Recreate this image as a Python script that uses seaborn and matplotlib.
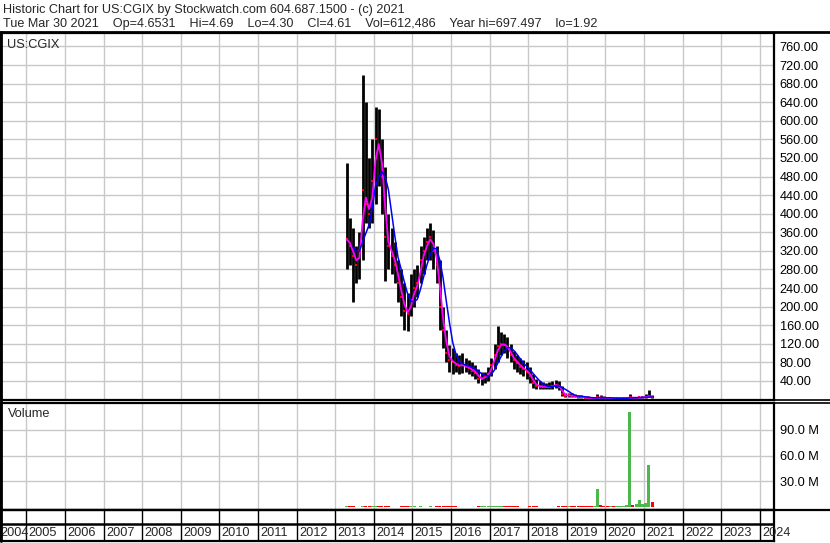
import numpy as np
import pandas as pd
import matplotlib
matplotlib.use("Agg")
import matplotlib.pyplot as plt
from matplotlib.lines import Line2D
import seaborn as sns

# Estilo base
sns.set_theme(style="white")
plt.rcParams['font.family'] = ['Liberation Sans', 'DejaVu Sans']

# Datos mensuales (abr 2013 - mar 2021)
first_month = '2013-04'
high = [509, 390, 370, 330, 360, 698, 640, 520, 560,
        630, 626, 560, 500, 400, 370, 340, 300, 280, 250, 230, 270,
        280, 290, 330, 350, 370, 381, 365, 330, 300, 200, 150, 118,
        110, 100, 95, 100, 90, 85, 80, 75, 65, 60, 60, 70,
        90, 120, 159, 145, 140, 135, 120, 105, 95, 90, 85, 80,
        70, 55, 45, 40, 38, 36, 38, 40, 42, 40, 30, 15,
        14, 13, 12, 10, 9, 8, 7, 6, 6, 12, 9, 7,
        6, 5, 4, 4, 4, 4.5, 5, 12, 6, 5.5, 6, 7,
        12, 20, 9]
low = [280, 290, 210, 250, 260, 300, 380, 370, 380,
       420, 460, 400, 255, 280, 270, 250, 210, 180, 150, 147, 180,
       200, 220, 250, 270, 300, 300, 280, 250, 150, 110, 80, 60,
       55, 60, 55, 58, 60, 55, 50, 45, 35, 31, 35, 40,
       50, 65, 80, 95, 100, 90, 80, 65, 60, 55, 50, 45,
       35, 25, 22, 22, 22, 22, 22, 22, 24, 20, 8, 5,
       6, 6, 5, 4, 3, 3, 2, 2, 2, 2.5, 3, 2.5,
       2.5, 2, 1.92, 2, 2, 2.2, 2.3, 3, 3, 3, 3, 3.5,
       4, 5, 4.3]
close = [345, 330, 310, 290, 320, 450, 420, 400, 470,
         560, 540, 480, 350, 330, 310, 290, 250, 220, 190, 185, 215,
         240, 250, 300, 320, 340, 350, 320, 290, 200, 150, 100, 85,
         80, 75, 72, 75, 70, 68, 62, 58, 45, 45, 50, 55,
         75, 95, 115, 120, 118, 110, 95, 85, 78, 70, 65, 60,
         50, 35, 30, 28, 28, 27, 28, 30, 32, 28, 12, 8,
         9, 8, 7, 6, 5, 4, 3.5, 3, 3, 5, 4, 3.5,
         3, 3, 2.5, 2.8, 3, 3, 3.5, 4.5, 4, 4, 4.5, 5,
         6, 7, 4.61]
volume_m = [1.8, 1.3, 1.3, 1.1, 1.1, 2.0, 1.5, 1.3, 1.3,
            1.5, 1.3, 1.3, 1.4, 1.2, 1.1, 1.1, 1.1, 1.2, 1.3, 1.3, 1.2,
            1.2, 1.1, 1.2, 1.1, 1.1, 1.2, 1.1, 1.2, 1.4, 1.5, 1.4, 1.3,
            1.3, 1.2, 1.1, 1.1, 1.1, 1.1, 1.1, 1.1, 1.2, 1.3, 1.2, 1.2,
            1.3, 1.5, 1.7, 1.4, 1.3, 1.2, 1.2, 1.2, 1.2, 1.1, 1.1, 1.1,
            1.2, 1.3, 1.2, 1.1, 1.1, 1.1, 1.1, 1.1, 1.1, 1.2, 1.7, 1.5,
            1.5, 1.4, 1.3, 1.3, 1.3, 1.4, 1.7, 1.5, 2.0, 21.7, 2.5, 1.5,
            1.5, 1.5, 1.7, 1.5, 1.5, 2.0, 2.5, 110.0, 3.0, 4.0, 8.6, 4.5,
            5.6, 49.0, 6.0]

years = list(range(2004, 2025))
price_ticks = list(range(40, 761, 40))
vol_ticks = [30, 60, 90]

title_1 = "Historic Chart for US:CGIX by Stockwatch.com 604.687.1500 - (c) 2021"
title_2 = ("Tue Mar 30 2021    Op=4.6531    Hi=4.69    Lo=4.30    Cl=4.61    "
           "Vol=612,486    Year hi=697.497    lo=1.92")

W, H = 830, 543
FS = 9.2
FS_HEAD = 9.05


def box(x0, y0, x1, y1):
    # convierte pixeles (origen arriba-izq) a fracciones de figura
    return [x0 / W, 1 - y1 / H, (x1 - x0) / W, (y1 - y0) / H]


def main():
    periods = pd.period_range(first_month, periods=len(close), freq='M')
    df = pd.DataFrame({
        'x': periods.year + (periods.month - 0.5) / 12,
        'high': high, 'low': low, 'close': close, 'vol': volume_m,
    })
    df['ma_fast'] = df['close'].rolling(2, min_periods=1).mean()
    df['ma_slow'] = df['close'].rolling(5, min_periods=3).mean()
    df['up'] = df['close'] >= df['close'].shift(1).fillna(df['close'])

    fig = plt.figure(figsize=(W / 100, H / 100), dpi=100)
    fig.patch.set_facecolor('white')

    xlim = (2005 + (1 - 26.5) / 38.6, 2005 + (774 - 26.5) / 38.6)

    ax = fig.add_axes(box(1, 33, 774, 400))
    ax_v = fig.add_axes(box(1, 403, 774, 510))
    ax_y = fig.add_axes(box(1, 510, 774, 541))

    # --- precio ---
    ax.vlines(df['x'], df['low'], df['high'], color='black', lw=2.0, zorder=2)
    ax.scatter(df['x'], df['close'], s=4, marker='s', color='red', lw=0, zorder=3)
    sns.lineplot(data=df, x='x', y='ma_fast', ax=ax, color='#ff00ff', lw=1.3, zorder=4)
    sns.lineplot(data=df, x='x', y='ma_slow', ax=ax, color='#0000ff', lw=1.1, zorder=5)
    ax.set_xlim(xlim)
    ax.set_ylim(-1, 789)
    ax.set_yticks(price_ticks)
    ax.set_yticklabels([f'{v:.2f}' for v in price_ticks])

    # --- volumen ---
    colors = np.where(df['up'], '#4cb84c', '#ff0000')
    ax_v.bar(df['x'], df['vol'], width=0.08, color=colors, lw=0, zorder=2)
    ax_v.set_xlim(xlim)
    ax_v.set_ylim(-2.9, 120.6)
    ax_v.set_yticks(vol_ticks)
    ax_v.set_yticklabels([f'{v:.1f} M' for v in vol_ticks])

    for a in (ax, ax_v):
        a.set_xticks(years[1:])
        a.set_xticklabels([])
        a.grid(True, color='#c8c8c8', lw=1, zorder=0)
        a.set_axisbelow(True)
        a.yaxis.tick_right()
        a.tick_params(axis='both', length=0, labelsize=FS, colors='black', pad=4)
        a.set_xlabel('')
        a.set_ylabel('')
        for s in a.spines.values():
            s.set_color('black')
            s.set_linewidth(1.6)

    ax.text(0.008, 0.985, 'US:CGIX', transform=ax.transAxes, fontsize=FS,
            va='top', ha='left')
    ax_v.text(0.009, 0.955, 'Volume', transform=ax_v.transAxes, fontsize=FS,
              va='top', ha='left')

    # --- fila de anos ---
    ax_y.set_xlim(xlim)
    ax_y.set_ylim(0, 1)
    ax_y.set_xticks([])
    ax_y.set_yticks([])
    for yr in years:
        ax_y.axvline(yr, color='black', lw=1)
        ax_y.text(max(yr + 0.06, xlim[0] - 0.01), 0.27, str(yr), fontsize=FS,
                  ha='left', va='center', clip_on=False)
    ax_y.axhline(0.55, color='black', lw=1.8)
    for s in ax_y.spines.values():
        s.set_color('black')
        s.set_linewidth(1.6)

    # --- encabezado y marcos ---
    fig.text(3 / W, 1 - 10 / H, title_1, fontsize=FS_HEAD, va='center', ha='left')
    fig.text(3 / W, 1 - 24 / H, title_2, fontsize=FS_HEAD, va='center', ha='left')
    for yy, lw in ((32, 2.0), (400, 1.2), (403, 1.2), (510, 1.6)):
        fig.add_artist(Line2D([0, 1], [1 - yy / H] * 2, color='black', lw=lw))
    fig.add_artist(Line2D([0.5 / W] * 2, [1 - 32 / H, 1 - 541 / H], color='black', lw=2))

    fig.savefig('out.png', dpi=100)
    plt.close(fig)


if __name__ == "__main__":
    main()
